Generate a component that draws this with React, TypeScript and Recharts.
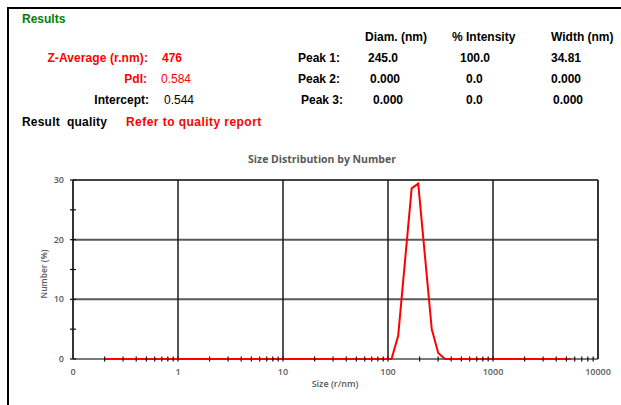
import React from "react";
import { LineChart, Line, XAxis, YAxis, ReferenceLine } from "recharts";

const sizes = [0.2, 108, 125, 168, 194, 261, 301, 349, 5560];
const numberPct = [0, 0, 3.9, 28.6, 29.4, 5.0, 1.0, 0, 0];

const xTicks = [
  0.1, 0.2, 0.3, 0.4, 0.5, 0.6, 0.7, 0.8, 0.9,
  1, 2, 3, 4, 5, 6, 7, 8, 9,
  10, 20, 30, 40, 50, 60, 70, 80, 90,
  100, 200, 300, 400, 500, 600, 700, 800, 900,
  1000, 2000, 3000, 4000, 5000, 6000, 7000, 8000, 9000,
  10000,
];
const xLabels: Record<string, string> = { "0.1": "0", "1": "1", "10": "10", "100": "100", "1000": "1000", "10000": "10000" };
const yTicks = [0, 5, 10, 15, 20, 25, 30];
const yLabeled = [0, 10, 20, 30];
const vGrid = [1, 10, 100, 1000];
const hGrid = [10, 20];

const headerCols = ["Diam. (nm)", "% Intensity", "Width (nm)"];
const peakNames = ["Peak 1:", "Peak 2:", "Peak 3:"];
const peakDiam = ["245.0", "0.000", "0.000"];
const peakInt = ["100.0", "0.0", "0.0"];
const peakWidth = ["34.81", "0.000", "0.000"];

const data = sizes.map((s, i) => ({ size: s, value: numberPct[i] }));

const TICK_SIZE = 6;
const TICK_MARGIN = 2;
const axisFont = "'Open Sans', 'DejaVu Sans', sans-serif";
const grayText = "#595959";

const XTick = (props: any) => {
  const { x, y, payload } = props;
  const v = payload.value;
  const axisY = y - TICK_SIZE - TICK_MARGIN;
  const label = xLabels[String(v)];
  return (
    <g>
      {v !== 0.1 && v !== 10000 && (
        <line x1={x} x2={x} y1={axisY - 2.5} y2={axisY + 2.5} stroke="#111" strokeWidth={1.2} />
      )}
      {label !== undefined && (
        <text x={x} y={axisY + 16} textAnchor="middle" fontSize={9} fontWeight={600} fill={grayText} fontFamily={axisFont}>
          {label}
        </text>
      )}
    </g>
  );
};

const YTick = (props: any) => {
  const { x, y, payload } = props;
  const v = payload.value;
  const axisX = x + TICK_SIZE + TICK_MARGIN;
  const labeled = yLabeled.includes(v);
  return (
    <g>
      <line x1={axisX - 3} x2={axisX + 3} y1={y} y2={y} stroke="#111" strokeWidth={1.2} />
      {labeled && (
        <text x={axisX - 9} y={y + 3} textAnchor="end" fontSize={9} fontWeight={600} fill={grayText} fontFamily={axisFont}>
          {v}
        </text>
      )}
    </g>
  );
};

const hdr: React.CSSProperties = {
  position: "absolute",
  fontFamily: "'Liberation Sans', Arial, sans-serif",
  fontSize: 12,
  fontWeight: 700,
  whiteSpace: "nowrap",
  lineHeight: "14px",
};

const rowY = [51, 72, 93];

export default function App() {
  return (
    <div style={{ position: "absolute", left: 0, top: 0, width: 621, height: 405, background: "#fff", overflow: "hidden" }}>
      <div style={{ position: "absolute", left: 7, top: 7, width: 2, height: 398, background: "#000" }} />
      <div style={{ position: "absolute", left: 7, top: 7, width: 614, height: 2, background: "#000" }} />

      <div style={{ ...hdr, left: 22, top: 12, color: "#008000" }}>Results</div>

      {headerCols.map((h, i) => (
        <div key={h} style={{ ...hdr, left: [365, 452, 551][i], top: 30, color: "#000" }}>{h}</div>
      ))}

      <div style={{ ...hdr, right: 621 - 148, top: rowY[0], color: "#ff0000", letterSpacing: 0.1 }}>Z-Average (r.nm):</div>
      <div style={{ ...hdr, left: 162, top: rowY[0], color: "#ff0000" }}>476</div>
      <div style={{ ...hdr, right: 621 - 147, top: rowY[1], color: "#ff0000" }}>PdI:</div>
      <div style={{ ...hdr, left: 161, top: rowY[1], color: "#ff0000", fontWeight: 400 }}>0.584</div>
      <div style={{ ...hdr, right: 621 - 149, top: rowY[2], color: "#000" }}>Intercept:</div>
      <div style={{ ...hdr, left: 164, top: rowY[2], color: "#000", fontWeight: 400 }}>0.544</div>

      {peakNames.map((p, i) => (
        <React.Fragment key={p}>
          <div style={{ ...hdr, left: i === 2 ? 301 : 298, top: rowY[i], color: "#000" }}>{p}</div>
          <div style={{ ...hdr, left: i === 0 ? 368 : i === 1 ? 370 : 373, top: rowY[i], color: "#000" }}>{peakDiam[i]}</div>
          <div style={{ ...hdr, left: i === 0 ? 460 : 466, top: rowY[i], color: "#000" }}>{peakInt[i]}</div>
          <div style={{ ...hdr, left: i === 2 ? 553 : 551, top: rowY[i], color: "#000" }}>{peakWidth[i]}</div>
        </React.Fragment>
      ))}

      <div style={{ ...hdr, left: 22, top: 115, color: "#000", letterSpacing: 0.2 }}>Result&nbsp; quality</div>
      <div style={{ ...hdr, left: 126, top: 115, color: "#ff0000", letterSpacing: 0.45 }}>Refer to quality report</div>

      <div style={{ position: "absolute", left: 0, width: 644, top: 152, textAlign: "center", fontFamily: axisFont, fontSize: 10.5, fontWeight: 700, color: grayText }}>
        Size Distribution by Number
      </div>
      <div style={{ position: "absolute", left: 0, width: 670, top: 377, textAlign: "center", fontFamily: axisFont, fontSize: 9, fontWeight: 600, color: grayText }}>
        Size (r/nm)
      </div>
      <div style={{ position: "absolute", left: 43, top: 274, transform: "translate(-50%, -50%) rotate(-90deg)", fontFamily: axisFont, fontSize: 8.5, fontWeight: 600, color: grayText, whiteSpace: "nowrap" }}>
        Number (%)
      </div>

      <div style={{ position: "absolute", left: 0, top: 0 }}>
        <LineChart width={621} height={405} data={data} margin={{ top: 180, right: 23, bottom: 16, left: 43 }}>
          <XAxis
            dataKey="size"
            type="number"
            scale="log"
            domain={[0.1, 10000]}
            ticks={xTicks}
            interval={0}
            height={30}
            tickSize={TICK_SIZE}
            tickMargin={TICK_MARGIN}
            tickLine={false}
            axisLine={false}
            tick={<XTick />}
          />
          <YAxis
            type="number"
            domain={[0, 30]}
            ticks={yTicks}
            interval={0}
            width={30}
            tickSize={TICK_SIZE}
            tickMargin={TICK_MARGIN}
            tickLine={false}
            axisLine={{ stroke: "#333", strokeWidth: 2 }}
            tick={<YTick />}
          />
          {hGrid.map((v) => (
            <ReferenceLine key={"h" + v} y={v} stroke="#5a5a5a" strokeWidth={2} />
          ))}
          <ReferenceLine y={30} stroke="#444" strokeWidth={2} />
          <ReferenceLine y={0} stroke="#7a7a7a" strokeWidth={2} />
          {vGrid.map((v) => (
            <ReferenceLine key={"v" + v} x={v} stroke="#1a1a1a" strokeWidth={1.5} />
          ))}
          <ReferenceLine x={10000} stroke="#333" strokeWidth={2} />
          <Line
            dataKey="value"
            type="linear"
            stroke="#ff0000"
            strokeWidth={2}
            dot={false}
            isAnimationActive={false}
          />
        </LineChart>
      </div>
    </div>
  );
}
